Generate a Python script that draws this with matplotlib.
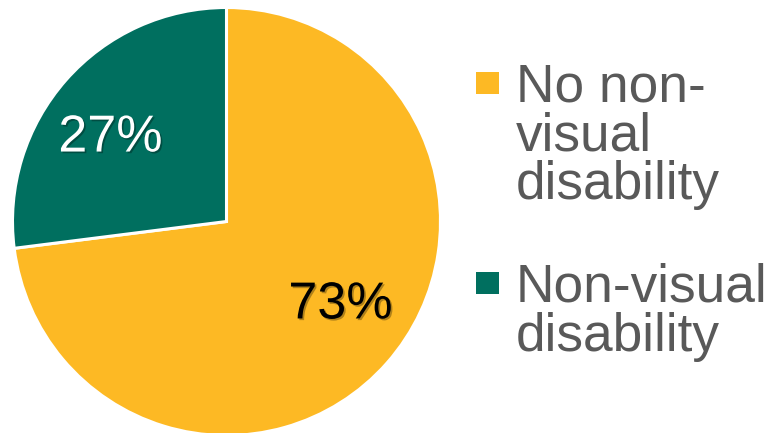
import matplotlib
matplotlib.use("Agg")
import matplotlib.pyplot as plt
import matplotlib.patheffects as pe
from matplotlib.patches import Rectangle

plt.rcParams['font.family'] = ['Liberation Sans', 'DejaVu Sans']

labels = ["No non-\nvisual\ndisability", "Non-visual\ndisability"]
values = [73, 27]
colors = ["#FDB924", "#006F5F"]
pct_colors = ["black", "white"]

W, H = 769, 433
fig = plt.figure(figsize=(W / 100, H / 100), dpi=100)

# pie axes: centre (226, 222) px from top, radius 214 px
cx, cy, r = 226.5, 221.5, 214
ax = fig.add_axes([(cx - r) / W, (H - cy - r) / H, 2 * r / W, 2 * r / H])
wedges, texts, autotexts = ax.pie(values, colors=colors, startangle=90, counterclock=False,
                                  autopct='%1.0f%%', pctdistance=0.66, radius=1,
                                  wedgeprops=dict(edgecolor='white', linewidth=2.2))
ax.set_xlim(-1, 1)
ax.set_ylim(-1, 1)
ax.set_aspect('equal')
ax.axis('off')

# PowerPoint-ish label spots
lbl_pos = [(0.533, -0.39), (-0.542, 0.39)]
for t, c, p in zip(autotexts, pct_colors, lbl_pos):
    t.set_position(p)
    t.set_color(c)
    t.set_fontsize(37.5)
    t.set_path_effects([pe.SimplePatchShadow(offset=(1.2, -1.2), shadow_rgbFace='black', alpha=0.3),
                        pe.Normal()])

# legend drawn by hand
entry_top = [72, 272]
line_gap = 48.5
for lab, col, top in zip(labels, colors, entry_top):
    fig.patches.append(Rectangle((476 / W, (H - top - 22) / H), 23 / W, 22 / H,
                                 transform=fig.transFigure, facecolor=col, edgecolor='none'))
    base = top + 30
    for i, line in enumerate(lab.split("\n")):
        fig.text(516 / W, (H - base - i * line_gap) / H, line, fontsize=38.3,
                 color='#595959', ha='left', va='baseline')

fig.savefig("out.png", dpi=100)
